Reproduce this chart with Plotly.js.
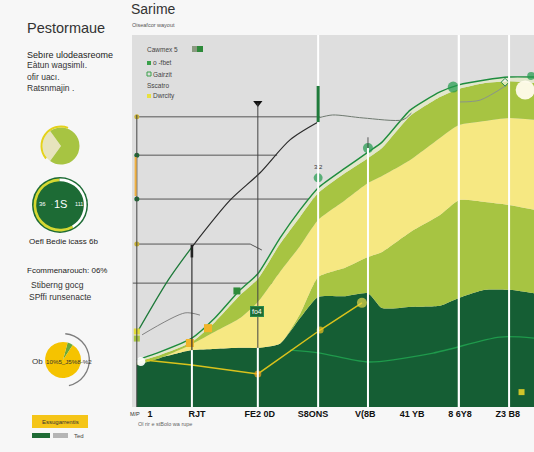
<!DOCTYPE html>
<html>
<head>
<meta charset="utf-8">
<script src="https://cdn.plot.ly/plotly-3.0.1.min.js"></script>
<style>html,body{margin:0;padding:0;background:#f7f7f7;}#chart{width:534px;height:452px;}</style>
</head>
<body>
<div id="chart"></div>
<script>
// ---- data ----
const X_POS = [1.2, 7, 14.9, 20.6, 26.9, 31.3, 36.8, 41.8, 46.3, 53, 58.7, 62.2, 69.2, 76.6, 81.3, 87.8, 93.8, 100];
const DARK_GREEN_TOP = [11.3, 13.2, 15.3, 15.6, 15.9, 15.9, 17.0, 23.9, 29.6, 29.8, 30.6, 26.6, 26.9, 27.2, 29.3, 31.5, 31.5, 30.6];
const LOWER_LIGHT_TOP = [11.3, 13.2, 15.3, 15.6, 15.9, 15.9, 17.0, 25.0, 34.9, 37.4, 40.3, 41.7, 47.0, 51.6, 55.6, 55.1, 54.3, 53.0];
const YELLOW_TOP = [11.3, 13.2, 16.9, 20.2, 23.9, 28.2, 36.3, 43.3, 50.3, 55.6, 60.2, 62.1, 66.4, 72.3, 75.8, 76.9, 77.7, 77.2];
const UPPER_LIGHT_TOP = [12.1, 14.0, 17.5, 22.8, 30.1, 34.4, 43.8, 51.1, 57.5, 62.9, 66.9, 69.6, 78.2, 83.3, 85.5, 87.1, 87.6, 87.1];
const TOP_LINE = [12.6, 14.8, 18.5, 23.9, 31.5, 35.8, 45.4, 53.0, 58.9, 64.2, 68.5, 71.2, 79.8, 84.7, 86.6, 87.9, 88.7, 88.7];

const BLACK_X = [14.9, 24.4, 31.8, 39.3, 46.3];
const BLACK_Y = [43.0, 55.6, 62.9, 71.8, 76.6];
const LEAD_X = [1.2, 9.0, 14.9];
const LEAD_Y = [19.9, 34.1, 43.0];
const GREY_X = [46.3, 49.9, 57.5, 67.4, 69.5];
const GREY_Y = [77.7, 78.5, 77.7, 77.2, 79.0];
const GREY2_X = [81.6, 86.6, 93.3];
const GREY2_Y = [82.0, 82.5, 86.6];
const GREY3_X = [2.5, 13.2, 16.9];
const GREY3_Y = [19.4, 25.3, 24.7];
const YLINE_X = [3.7, 14.9, 31.3, 46.8, 57.2];
const YLINE_Y = [12.6, 11.3, 8.9, 20.7, 28.0];
const INNER_X = [39.3, 46.8, 58.7, 74.9, 91.5, 100];
const INNER_Y = [15.3, 14.5, 12.1, 14.5, 18.8, 18.5];

const GREEN_DOT_X = [58.7, 46.3, 79.9, 99.3];
const GREEN_DOT_Y = [69.6, 61.6, 86.0, 89.0];
const ORANGE_X = [14.4, 18.9];
const ORANGE_Y = [17.2, 21.2];
const YMARK_X = [31.3, 46.8, 57.2];
const YMARK_Y = [8.9, 20.7, 28.0];
const AXIS_MARK_Y = [78.0, 67.7, 55.9, 43.8];
const GRID_Y = [78.0, 67.7, 55.9, 43.8, 33.3];
const GRID_END = [46.8, 36.1, 46.0, 29.4, 49.3];

const X_TICK_VALS = [4.5, 16.2, 31.8, 45, 58, 69.7, 81.6, 93.5];
const X_TICK_TEXT = ['1', 'RJT', 'FE2 0D', 'S8ONS', 'V(8B', '41 YB', '8 6Y8', 'Z3 B8'];

const PIE1_VALUES = [30, 70];
const PIE2_VALUES = [100];
const PIE3_VALUES = [5, 95];

// ---- styling ----
const W = 534, H = 452;
const FONT = 'Liberation Sans, Arial, sans-serif';
const C_DARK = '#155e34', C_LIGHT = '#a7c442', C_YEL = '#f6e882', C_PALE = '#e2e7cc', C_LINE = '#1e8c3e';

function dom(cx, cy, r) { return {x: [(cx - r) / W, (cx + r) / W], y: [1 - (cy + r) / H, 1 - (cy - r) / H]}; }
function ann(text, x, y, size, color, extra) {
  return Object.assign({text: text, x: x / W, y: 1 - y / H, xref: 'paper', yref: 'paper', showarrow: false,
    xanchor: 'left', yanchor: 'middle', font: {family: FONT, size: size, color: color}}, extra || {});
}
function dann(text, x, y, size, color, extra) {
  return Object.assign({text: text, x: x, y: y, xref: 'x', yref: 'y', showarrow: false,
    font: {family: FONT, size: size, color: color}}, extra || {});
}
function rect(x0, y0, x1, y1, color) {
  return {type: 'rect', xref: 'paper', yref: 'paper', x0: x0 / W, x1: x1 / W, y0: 1 - y1 / H, y1: 1 - y0 / H,
    fillcolor: color, line: {width: 0}, layer: 'above'};
}
function vline(x, y0, y1, color, width) {
  return {type: 'line', xref: 'x', yref: 'y', x0: x, x1: x, y0: y0, y1: y1, line: {color: color, width: width}, layer: 'above'};
}

const SM = 0.55;
const area = (y, fill, fc, lc, lw) => ({type: 'scatter', mode: 'lines', x: X_POS, y: y, fill: fill, fillcolor: fc,
  line: {color: lc || fc, width: lw || 0, shape: 'spline', smoothing: SM}, hoverinfo: 'skip', xaxis: 'x', yaxis: 'y'});
const line = (x, y, color, width, shape) => ({type: 'scatter', mode: 'lines', x: x, y: y,
  line: {color: color, width: width, shape: shape || 'spline', smoothing: 0.8}, hoverinfo: 'skip'});
const pts = (x, y, color, size, symbol, lineColor) => ({type: 'scatter', mode: 'markers', x: x, y: y,
  marker: {color: color, size: size, symbol: symbol || 'circle', line: {color: lineColor || color, width: lineColor ? 1 : 0}}, hoverinfo: 'skip'});

const traces = [
  area(DARK_GREEN_TOP, 'tozeroy', C_DARK),
  area(LOWER_LIGHT_TOP, 'tonexty', C_LIGHT),
  area(YELLOW_TOP, 'tonexty', C_YEL),
  area(UPPER_LIGHT_TOP, 'tonexty', C_LIGHT),
  area(TOP_LINE, 'tonexty', C_PALE, C_LINE, 1.4),
  line(INNER_X, INNER_Y, '#1f9a4c', 1.3),
  line(YLINE_X, YLINE_Y, '#d9c21c', 1.5, 'linear'),
  line(LEAD_X, LEAD_Y, '#1e7a3a', 1.3),
  line(BLACK_X, BLACK_Y, '#2a2a2a', 1.2),
  line(GREY_X, GREY_Y, '#6f7a70', 1),
  line(GREY2_X, GREY2_Y, '#8a948a', 1),
  line(GREY3_X, GREY3_Y, '#6a6a6a', 0.8),
  pts(AXIS_MARK_Y.map(() => 1.2), AXIS_MARK_Y, ['#c9b33a', '#1e6b35', '#1e6b35', '#c9b33a'], 5),
  pts([1.2, 1.2], [20.3, 18.4], ['#e2dc3a', '#a7c442'], 6, 'square'),
  pts([2.2], [12.2], 'rgba(255,255,255,0.92)', 9),
  pts(ORANGE_X, ORANGE_Y, '#f0b429', 8, 'square'),
  pts([26.1], [31.2], '#2e8b3a', 7, 'square'),
  pts(YMARK_X, YMARK_Y, ['#f0a020', '#f0c020', '#e6d84a'], [7, 7, 10]),
  pts([97.8], [85.2], 'rgba(255,252,236,0.95)', 19),
  pts(GREEN_DOT_X, GREEN_DOT_Y, '#1f9a4c', [10, 9, 11, 8]),
  pts([92.8], [87.3], 'rgba(255,255,255,0.6)', 6, 'diamond', '#2a8a4a'),
  pts([31.3], [81.7], '#111', 8, 'triangle-down'),
  pts([96.9], [4.0], '#cfc42a', 6, 'square'),
  // pies
  {type: 'pie', values: PIE1_VALUES, marker: {colors: ['#e7e4bd', C_LIGHT], line: {width: 0}}, sort: false,
    direction: 'clockwise', rotation: 216, textinfo: 'none', hoverinfo: 'skip', domain: dom(61, 146, 18.5)},
  {type: 'pie', values: [42, 58], hole: 0.9, marker: {colors: ['#e4d21c', 'rgba(0,0,0,0)'], line: {width: 0}}, sort: false,
    direction: 'clockwise', rotation: 230, textinfo: 'none', hoverinfo: 'skip', domain: dom(61, 146, 20.5)},
  {type: 'pie', values: PIE2_VALUES, marker: {colors: ['#1d6b35'], line: {width: 0}}, sort: false,
    textinfo: 'none', hoverinfo: 'skip', domain: dom(60, 205, 28)},
  {type: 'pie', values: [58, 42], hole: 0.9, marker: {colors: ['#d6d832', '#ffffff'], line: {width: 0}}, sort: false,
    direction: 'clockwise', rotation: 150, textinfo: 'none', hoverinfo: 'skip', domain: dom(60, 205, 26.5)},
  {type: 'pie', values: PIE3_VALUES, marker: {colors: ['#6aaa3a', '#f5c300'], line: {width: 0}}, sort: false,
    direction: 'clockwise', rotation: 15, textinfo: 'none', hoverinfo: 'skip', domain: dom(63, 360, 18)},
  {type: 'pie', values: [45, 55], hole: 0.95, marker: {colors: ['#7d7d7d', 'rgba(0,0,0,0)'], line: {width: 0}}, sort: false,
    direction: 'clockwise', rotation: 5, textinfo: 'none', hoverinfo: 'skip', domain: dom(63, 360, 27)}
];

const shapes = [];
GRID_Y.forEach((y, i) => shapes.push({type: 'line', xref: 'x', yref: 'y', x0: i === 4 ? 0.2 : 1.2, x1: GRID_END[i], y0: y, y1: y,
  line: {color: '#555', width: 1}, layer: 'below'}));
shapes.push({type: 'line', xref: 'x', yref: 'y', x0: 29.4, x1: 32.3, y0: 43.8, y1: 42.2, line: {color: '#555', width: 1}, layer: 'below'});
shapes.push(vline(1.2, 0, 78.5, '#444', 1));
shapes.push(vline(0.9, 56.7, 67.2, '#f0b040', 2));
shapes.push(vline(14.9, 0, 15.3, '#ffffff', 2));
shapes.push(vline(31.3, 0, 15.9, '#ffffff', 2));
shapes.push(vline(46.3, 0, 100, '#ffffff', 2));
shapes.push(vline(58.7, 0, 69.6, '#ffffff', 2));
shapes.push(vline(81.3, 0, 100, '#ffffff', 2.2));
shapes.push(vline(93.8, 0, 100, '#ffffff', 2));
shapes.push(vline(14.9, 15.3, 43.5, '#333', 1.2));
shapes.push(vline(14.9, 40.2, 43.6, '#222', 2.6));
shapes.push(vline(31.3, 15.9, 81.7, '#444', 1));
shapes.push(vline(46.3, 76.6, 86.3, '#1e7a3a', 3));
shapes.push(vline(58.7, 69.6, 72.5, '#333', 0.8));
// left panel boxes and legend swatches
shapes.push(rect(32, 415, 88, 428, '#f5c518'));
shapes.push(rect(32, 433, 50, 438, '#1e6b35'));
shapes.push(rect(53, 433, 68, 438, '#b5b5b5'));
shapes.push(rect(192, 46, 197, 52, '#8a9a80'));
shapes.push(rect(197, 46, 203, 52, '#2d8a3a'));
shapes.push(rect(147, 61, 151, 65, '#3aa04a'));
shapes.push({type: 'rect', xref: 'paper', yref: 'paper', x0: 147 / W, x1: 151 / W, y0: 1 - 76 / H, y1: 1 - 72 / H,
  fillcolor: 'rgba(0,0,0,0)', line: {color: '#3aa04a', width: 1}, layer: 'above'});
shapes.push(rect(147, 94, 151, 98, '#e8e040'));

const annotations = [
  ann('Sarime', 129, 9, 14, '#333'),
  ann('Oiseafcor wayout', 130, 25, 5.5, '#555'),
  ann('Pestormaue', 25, 28, 14.5, '#333'),
  ann('Sebıre ulodeasreome', 25, 55, 9, '#222'),
  ann('Eàtun wagsimlı.', 25, 65, 8.5, '#333'),
  ann('ofir uacı.', 25, 77, 8.5, '#333'),
  ann('Ratsnmajin .', 25, 88, 8.5, '#333'),
  ann('36', 37, 204, 6, '#fff'),
  ann('·', 49, 204, 6, '#fff'),
  ann('1S', 60, 204, 11, '#fff', {xanchor: 'center'}),
  ann('111', 73, 204, 5.5, '#fff'),
  ann('Oefl Bedie icass 6b', 27, 241, 8, '#222'),
  ann('Fcommenarouch: 06%', 25, 270, 8, '#222'),
  ann('Stiberng gocg', 29, 285, 8.5, '#333'),
  ann('SPffi runsenacte', 27, 297, 8.5, '#333'),
  ann('Ob', 30, 361, 8, '#333'),
  ann('10%5_J5%8-%2', 44, 361, 6.2, '#333'),
  ann('Essugarrentis', 60, 422, 6, '#333', {xanchor: 'center'}),
  ann('Ted', 72, 436, 6, '#444'),
  ann('Cawmex 5', 145, 49, 6.5, '#444'),
  ann('o -fbet', 151, 63, 6.5, '#444'),
  ann('Gairzit', 151, 74, 6.5, '#444'),
  ann('Sscatro', 145, 85, 6.5, '#444'),
  ann('Dwrcity', 151, 96, 6.5, '#444'),
  ann('M/P', 128, 414, 5.5, '#333'),
  ann('Ol rir e stBolo wa rupe', 136, 424, 5.5, '#666'),
  dann('3 2', 46.3, 64.6, 6, '#333'),
  dann('fo4', 31.1, 25.8, 7, '#ffffff', {bgcolor: '#1e6b35', bordercolor: '#2a8a4a', borderwidth: 1, borderpad: 1})
];

const layout = {
  width: W, height: H,
  margin: {l: 0, r: 0, t: 0, b: 0},
  paper_bgcolor: '#f7f7f7',
  plot_bgcolor: '#dedede',
  showlegend: false,
  font: {family: FONT, color: '#222'},
  xaxis: {domain: [132 / W, 1], range: [0, 100], showgrid: false, zeroline: false, ticks: '',
    tickvals: X_TICK_VALS, ticktext: X_TICK_TEXT, tickfont: {family: FONT, size: 9, color: '#111', weight: 'bold'}, fixedrange: true},
  yaxis: {domain: [1 - 407 / H, 1 - 35 / H], range: [0, 100], showgrid: false, zeroline: false, showticklabels: false, ticks: '', fixedrange: true},
  shapes: shapes,
  annotations: annotations
};

Plotly.newPlot('chart', traces, layout, {displayModeBar: false, staticPlot: true});
</script>
</body>
</html>
